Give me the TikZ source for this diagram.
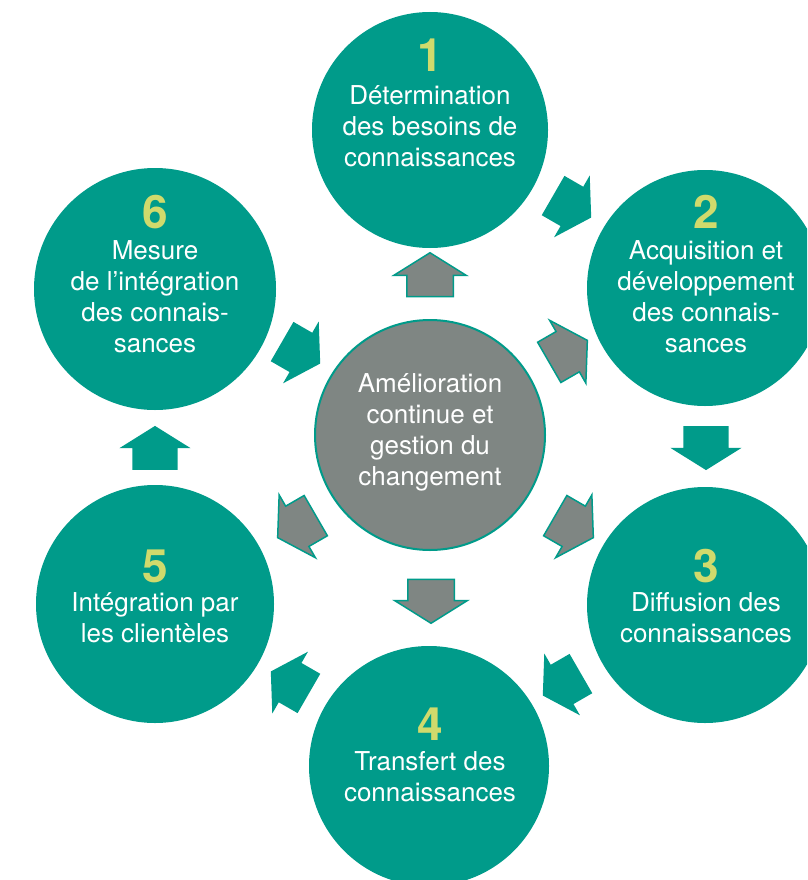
\documentclass[tikz,border=0pt]{standalone}
\usepackage{fontspec}
\setmainfont{TeX Gyre Heros}
\usetikzlibrary{shapes.arrows}

\definecolor{tealc}{RGB}{0,155,138}
\definecolor{greyc}{RGB}{127,134,131}
\definecolor{numc}{RGB}{208,218,108}

\tikzset{
  stage/.style={circle, fill=tealc, minimum size=236pt, inner sep=0pt},
  hub/.style={circle, fill=greyc, draw=tealc, line width=2pt, minimum size=230pt, inner sep=0pt},
  blockarrow/.style={single arrow, minimum height=44pt, inner xsep=0pt, inner ysep=22.5pt,
    single arrow head extend=13pt, single arrow tip angle=116},
  tealarrow/.style={blockarrow, fill=tealc},
  greyarrow/.style={blockarrow, fill=greyc, draw=tealc, line width=1.5pt},
  numlabel/.style={font=\fontsize{46}{46}\selectfont\bfseries, text=numc, inner sep=0pt, anchor=base},
  % base of a multi-line label = baseline of its last line
  txtlabel/.style={font=\fontsize{26}{31}\selectfont, text=white, align=center, inner sep=0pt, anchor=base}
}

\begin{document}
\begin{tikzpicture}[x=1pt,y=-1pt]
\clip (0,0) rectangle (807,880);

% stages around the hub
\node[stage] (c1) at (430,130) {};
\node[stage] (c2) at (705,288) {};
\node[stage] (c3) at (705,605) {};
\node[stage, minimum size=240pt] (c4) at (429,766) {};
\node[stage, minimum size=238pt] (c5) at (155,604) {};
\node[stage, minimum size=242pt] (c6) at (155,289) {};
\node[hub] (hub) at (430,435) {};

\node[numlabel] (n1) at (430,72) {1};
\node[txtlabel] (t1) at (430,166) {Détermination\\des besoins de\\connaissances};
\node[numlabel] (n2) at (706,228) {2};
\node[txtlabel] (t2) at (706,352) {Acquisition et\\développement\\des connais-\\sances};
\node[numlabel] (n3) at (706,582) {3};
\node[txtlabel] (t3) at (706,642) {Diffusion des\\connaissances};
\node[numlabel] (n4) at (430,740) {4};
\node[txtlabel] (t4) at (430,801) {Transfert des\\connaissances};
\node[numlabel] (n5) at (155,582) {5};
\node[txtlabel] (t5) at (155,642) {Intégration par\\les clientèles};
\node[numlabel] (n6) at (155,228) {6};
\node[txtlabel] (t6) at (155,352) {Mesure\\de l’intégration\\des connais-\\sances};
\node[txtlabel] (th) at (430,485) {Amélioration\\continue et\\gestion du\\changement};

% cycle arrows
\node[tealarrow, rotate=-30] (a12) at (566,203) {};
\node[tealarrow, rotate=-90] (a23) at (706,441) {};
\node[tealarrow, rotate=210] (a34) at (568,681) {};
\node[tealarrow, rotate=150] (a45) at (296,686) {};
\node[tealarrow, rotate=90] (a56) at (155,455) {};
\node[tealarrow, rotate=-30] (a6h) at (295,349) {};

% hub arrows
\node[greyarrow, rotate=90] (h1) at (430,282) {};
\node[greyarrow, rotate=30] (h2) at (562,355) {};
\node[greyarrow, rotate=-30] (h3) at (568,523) {};
\node[greyarrow, rotate=-90] (h4) at (431,594) {};
\node[greyarrow, rotate=210] (h5) at (303,523) {};
\end{tikzpicture}
\end{document}
